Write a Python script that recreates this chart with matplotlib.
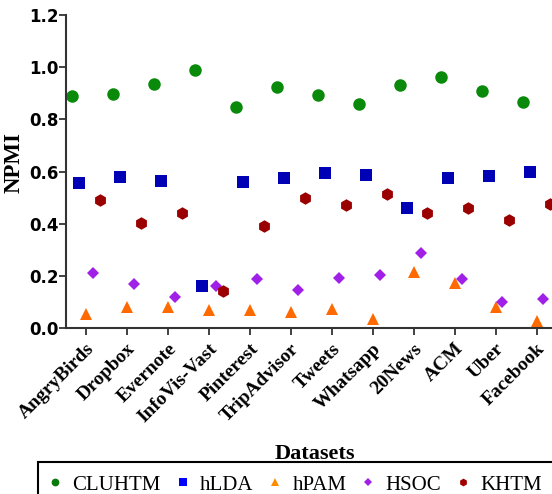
import numpy as np
import matplotlib.pyplot as plt
from matplotlib.lines import Line2D
from matplotlib.patches import Rectangle

datasets = ['AngryBirds', 'Dropbox', 'Evernote', 'InfoVis-Vast', 'Pinterest',
            'TripAdvisor', 'Tweets', 'Whatsapp', '20News', 'ACM', 'Uber', 'Facebook']

cluhtm = [0.890, 0.897, 0.935, 0.990, 0.846, 0.925, 0.893, 0.858, 0.933, 0.962, 0.910, 0.867]
hlda = [0.557, 0.579, 0.565, 0.163, 0.560, 0.575, 0.595, 0.587, 0.459, 0.576, 0.582, 0.598]
hpam = [0.055, 0.083, 0.080, 0.070, 0.070, 0.064, 0.073, 0.036, 0.215, 0.172, 0.083, 0.029]
hsoc = [0.210, 0.168, 0.121, 0.162, 0.187, 0.146, 0.194, 0.203, 0.287, 0.187, 0.100, 0.112]
khtm = [0.493, 0.402, 0.440, 0.144, 0.390, 0.500, 0.474, 0.516, 0.442, 0.461, 0.416, 0.478]

series = [
    ('CLUHTM', cluhtm, 'o', '#0a8a0a', '#0a7a0a', 9),
    ('hLDA', hlda, 's', '#0000b4', '#0000ff', 8.5),
    ('hPAM', hpam, '^', '#ff6a00', '#ff8c00', 9),
    ('HSOC', hsoc, 'D', '#a020e8', '#a020e8', 6.5),
    ('KHTM', khtm, 'h', '#9a0000', '#a00000', 9),
]
offsets = [-0.34, -0.17, 0.0, 0.17, 0.34]

fig = plt.figure(figsize=(5.52, 4.94), dpi=100)
ax = fig.add_axes([66 / 552, 165.7 / 494, 491 / 552, 313.3 / 494])

x = np.arange(len(datasets))
handles = []
for (name, vals, mk, col, lcol, ms), off in zip(series, offsets):
    ax.plot(x + off, vals, linestyle='none', marker=mk, color=col,
            markersize=ms, markeredgewidth=0, clip_on=False)
    handles.append(Line2D([], [], linestyle='none', marker=mk, color=lcol,
                          markersize=ms * 0.62, markeredgewidth=0, label=name))

ax.set_xlim(-0.48, 11.5)
ax.set_ylim(0, 1.2)
ax.set_yticks(np.arange(0, 1.21, 0.2))
ax.set_yticklabels(['%.1f' % v for v in np.arange(0, 1.21, 0.2)],
                   fontsize=12, fontweight='bold', family='DejaVu Sans')
ax.set_xticks(x)
ax.set_xticklabels(datasets, rotation=45, ha='right', rotation_mode='anchor',
                   fontsize=14, fontweight='bold', family='Liberation Serif')

for s in ['top', 'right']:
    ax.spines[s].set_visible(False)
for s in ['left', 'bottom']:
    ax.spines[s].set_linewidth(1.5)
    ax.spines[s].set_color('#333333')
ax.tick_params(direction='out', length=5, width=1.3, color='#333333')
ax.tick_params(axis='x', pad=3.5)
ax.tick_params(axis='y', pad=0.5)

ax.set_ylabel('NPMI', fontsize=16.5, fontweight='bold', family='Liberation Serif')
ax.yaxis.set_label_coords(-0.084, 0.53)
ax.set_xlabel('Datasets', fontsize=16, fontweight='bold', family='Liberation Serif')
ax.xaxis.set_label_coords(0.507, -0.37)

# legend box runs off the right and bottom edges like in the original
fig.patches.append(Rectangle((38 / 552, -0.1), 0.95, 0.1 + 32 / 494,
                             transform=fig.transFigure, fill=False,
                             edgecolor='black', linewidth=1.5))
leg = fig.legend(handles=handles, ncol=5, loc='upper left',
                 bbox_to_anchor=(44.6 / 552, 19 / 494), borderaxespad=0,
                 prop={'family': 'Liberation Serif', 'size': 15},
                 frameon=False, handlelength=1.0,
                 handletextpad=0.33, columnspacing=0.55, borderpad=0)

fig.savefig('out.png', dpi=100)
